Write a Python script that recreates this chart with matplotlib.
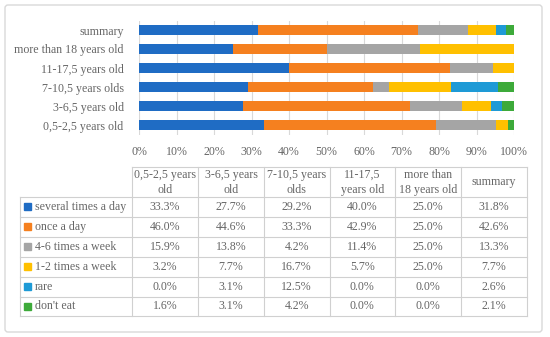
import matplotlib
matplotlib.use("Agg")
import matplotlib.pyplot as plt
from matplotlib.patches import FancyBboxPatch
import numpy as np

groups = ["0,5-2,5 years old", "3-6,5 years old", "7-10,5 years olds",
          "11-17,5 years old", "more than 18 years old", "summary"]
header_labels = ["0,5-2,5 years\nold", "3-6,5 years\nold", "7-10,5 years\nolds",
                 "11-17,5\nyears old", "more than\n18 years old", "summary"]
series = ["several times a day", "once a day", "4-6 times a week",
          "1-2 times a week", "rare", "don't eat"]
several = [33.3, 27.7, 29.2, 40.0, 25.0, 31.8]
once = [46.0, 44.6, 33.3, 42.9, 25.0, 42.6]
w46 = [15.9, 13.8, 4.2, 11.4, 25.0, 13.3]
w12 = [3.2, 7.7, 16.7, 5.7, 25.0, 7.7]
rare = [0.0, 3.1, 12.5, 0.0, 0.0, 2.6]
dont = [1.6, 3.1, 4.2, 0.0, 0.0, 2.1]
values = [several, once, w46, w12, rare, dont]
colors = ["#1F6CC4", "#F5801F", "#A5A5A5", "#FFC000", "#1E9AD6", "#3DAA3A"]
ticks = [0, 10, 20, 30, 40, 50, 60, 70, 80, 90, 100]

FONT = ["Liberation Serif", "DejaVu Serif"]
TXT = "#666666"
FS = 8.6
W, H = 550, 337

fig = plt.figure(figsize=(W / 100, H / 100), dpi=100)

# outer frame
bg = fig.add_axes([0, 0, 1, 1])
bg.set_xlim(0, W)
bg.set_ylim(H, 0)
bg.axis("off")
bg.add_patch(FancyBboxPatch((5, 5), 537, 327, boxstyle="round,pad=0,rounding_size=3",
                            fc="white", ec="#D9D9D9", lw=1.0))

# bar chart
ax = fig.add_axes([139 / W, 1 - 134.5 / H, 375 / W, 114 / H])
ax.set_facecolor("none")
y = np.arange(len(groups))
left = np.zeros(len(groups))
tot = np.array([sum(v[i] for v in values) for i in range(len(groups))])
for vals, c in zip(values, colors):
    frac = np.array(vals) / tot * 100
    ax.barh(y, frac, left=left, height=0.5, color=c, zorder=3)
    left += frac
ax.set_xlim(0, 100)
ax.set_ylim(-0.5, len(groups) - 0.5)
ax.set_xticks(ticks)
ax.set_xticklabels([f"{t}%" for t in ticks], fontfamily=FONT, fontsize=FS, color=TXT)
ax.set_yticks(y)
ax.set_yticklabels(groups, fontfamily=FONT, fontsize=FS, color=TXT)
ax.tick_params(axis="both", length=0)
ax.tick_params(axis="y", pad=11)
ax.tick_params(axis="x", pad=8)
ax.grid(axis="x", color="#D9D9D9", lw=0.8, zorder=0)
for s in ax.spines.values():
    s.set_visible(False)

# table
t = fig.add_axes([0, 0, 1, 1])
t.set_xlim(0, W)
t.set_ylim(H, 0)
t.axis("off")
col_x = [132, 198, 264, 329.5, 395, 461, 527]
legend_x0 = 20
top = 167
hdr_bot = 197
rh = 19.9
row_y = [hdr_bot + i * rh for i in range(len(series) + 1)]
lc = "#D0D0D0"
lw = 0.8
t.plot([col_x[0], col_x[-1]], [top, top], color=lc, lw=lw)
for ry in row_y:
    t.plot([legend_x0, col_x[-1]], [ry, ry], color=lc, lw=lw)
t.plot([legend_x0, legend_x0], [row_y[0], row_y[-1]], color=lc, lw=lw)
for cx in col_x:
    t.plot([cx, cx], [top, row_y[-1]], color=lc, lw=lw)
for j, lab in enumerate(header_labels):
    cx = (col_x[j] + col_x[j + 1]) / 2
    t.text(cx, (top + hdr_bot) / 2 + 0.5, lab, ha="center", va="center", fontfamily=FONT,
           fontsize=FS, color=TXT, linespacing=1.3)
for i, (name, vals, c) in enumerate(zip(series, values, colors)):
    cy = row_y[i] + rh / 2
    t.add_patch(plt.Rectangle((legend_x0 + 4, cy - 3.5), 7, 7, color=c))
    t.text(legend_x0 + 15, cy, name, ha="left", va="center", fontfamily=FONT,
           fontsize=FS, color=TXT)
    for j, v in enumerate(vals):
        cx = (col_x[j] + col_x[j + 1]) / 2
        t.text(cx, cy, f"{v:.1f}%", ha="center", va="center", fontfamily=FONT,
               fontsize=FS, color=TXT)

fig.savefig("out.png", dpi=100)
